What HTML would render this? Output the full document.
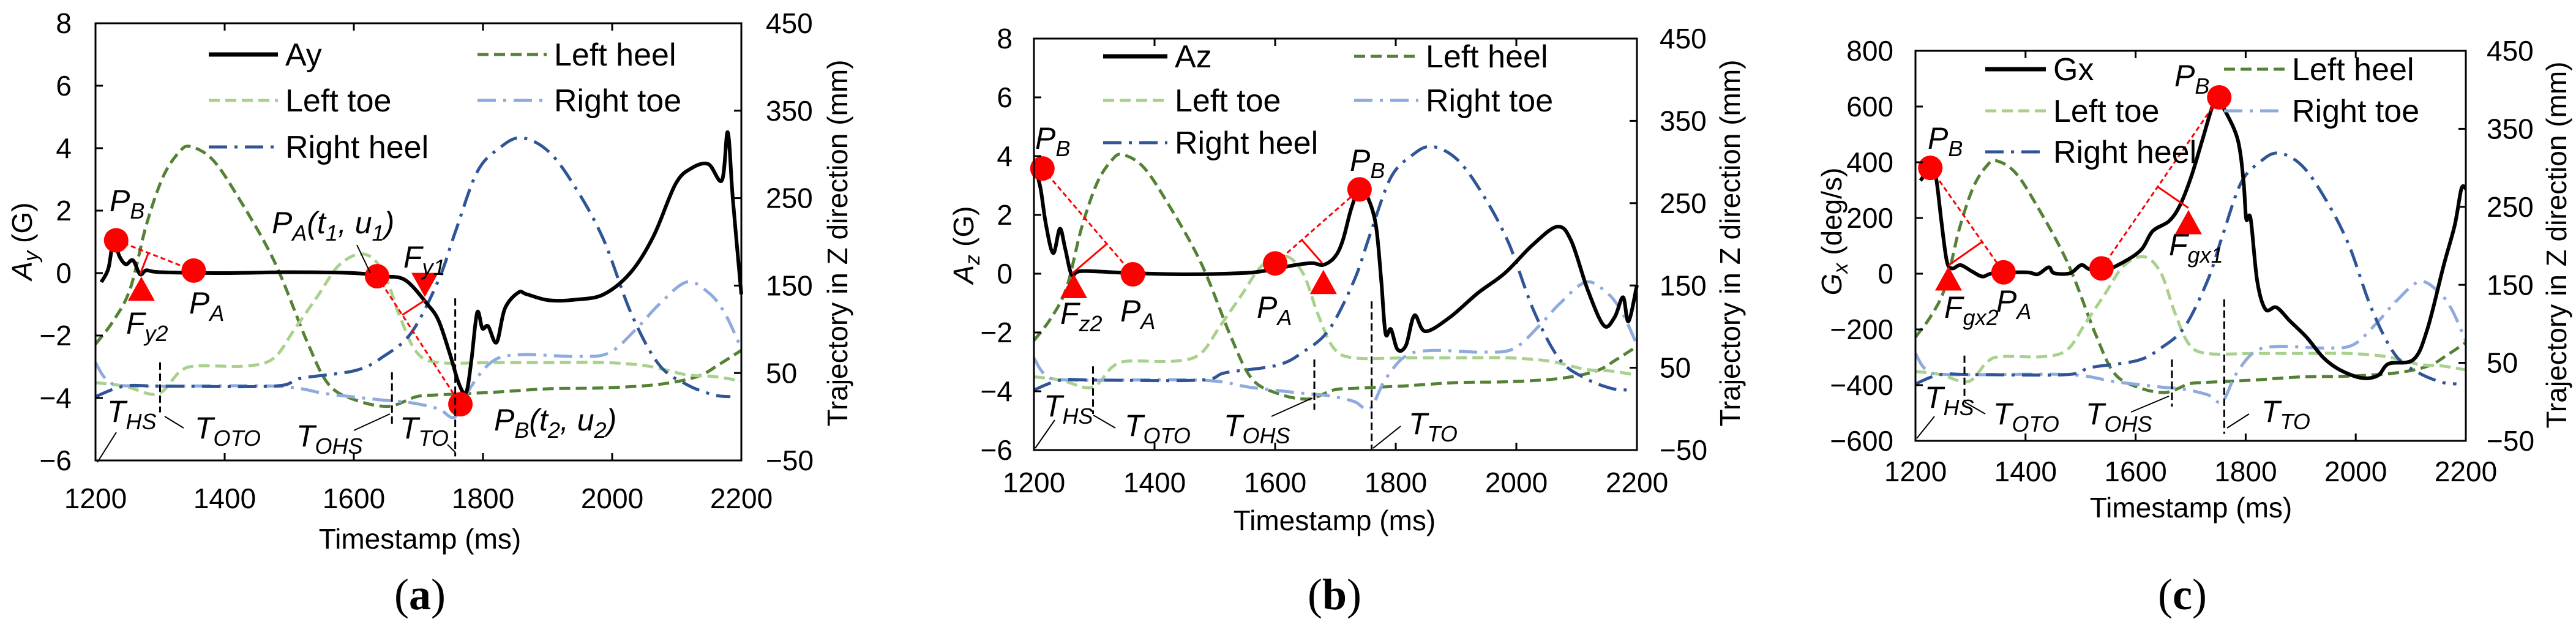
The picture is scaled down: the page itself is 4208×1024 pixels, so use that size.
<!DOCTYPE html>
<html><head><meta charset="utf-8"><style>
html,body{margin:0;padding:0;background:#fff}
svg{display:block;font-family:"Liberation Sans",Arial,sans-serif}
.it{font-style:italic}
</style></head><body>
<svg id="fig" width="4208" height="1024" viewBox="0 0 4208 1024" xmlns="http://www.w3.org/2000/svg">
<g id="layer"></g>
<!-- static titles -->
<g font-size="46" fill="#000">
 <text transform="translate(52,394) rotate(-90)" text-anchor="middle"><tspan class="it">A</tspan><tspan class="it" font-size="34" dy="10">y</tspan><tspan dy="-10"> (G)</tspan></text>
 <text transform="translate(1590,400) rotate(-90)" text-anchor="middle"><tspan class="it">A</tspan><tspan class="it" font-size="34" dy="10">z</tspan><tspan dy="-10"> (G)</tspan></text>
 <text transform="translate(3008,378) rotate(-90)" text-anchor="middle"><tspan class="it">G</tspan><tspan class="it" font-size="34" dy="10">x</tspan><tspan dy="-10"> (deg/s)</tspan></text>
 <text transform="translate(1384,397) rotate(-90)" text-anchor="middle">Trajectory in Z direction (mm)</text>
 <text transform="translate(2842,397) rotate(-90)" text-anchor="middle">Trajectory in Z direction (mm)</text>
 <text transform="translate(4192,400) rotate(-90)" text-anchor="middle">Trajectory in Z direction (mm)</text>
 <text x="686" y="896" text-anchor="middle">Timestamp (ms)</text>
 <text x="2180" y="866" text-anchor="middle">Timestamp (ms)</text>
 <text x="3579" y="845" text-anchor="middle">Timestamp (ms)</text>
</g>
<g font-family="'Liberation Serif',serif" font-size="72" text-anchor="middle">
 <text x="686" y="995">(<tspan font-weight="bold">a</tspan>)</text>
 <text x="2180" y="995">(<tspan font-weight="bold">b</tspan>)</text>
 <text x="3565" y="995">(<tspan font-weight="bold">c</tspan>)</text>
</g>
<!-- annotations -->
<g font-size="50" class="it" fill="#000" font-style="italic">
 <g>
  <text x="179" y="345">P<tspan font-size="36" dy="12">B</tspan></text>
  <text x="309" y="512">P<tspan font-size="36" dy="12">A</tspan></text>
  <text x="206" y="545">F<tspan font-size="36" dy="12">y2</tspan></text>
  <text x="444" y="381">P<tspan font-size="36" dy="12">A</tspan><tspan dy="-12">(t</tspan><tspan font-size="36" dy="12">1</tspan><tspan dy="-12">, u</tspan><tspan font-size="36" dy="12">1</tspan><tspan dy="-12">)</tspan></text>
  <text x="659" y="437">F<tspan font-size="36" dy="12">y1</tspan></text>
  <text x="175" y="689">T<tspan font-size="36" dy="12">HS</tspan></text>
  <text x="318" y="716">T<tspan font-size="36" dy="12">OTO</tspan></text>
  <text x="484" y="729">T<tspan font-size="36" dy="12">OHS</tspan></text>
  <text x="653" y="716">T<tspan font-size="36" dy="12">TO</tspan></text>
  <text x="807" y="703">P<tspan font-size="36" dy="12">B</tspan><tspan dy="-12">(t</tspan><tspan font-size="36" dy="12">2</tspan><tspan dy="-12">, u</tspan><tspan font-size="36" dy="12">2</tspan><tspan dy="-12">)</tspan></text>
  <g stroke="#000" stroke-width="2"><line x1="159" y1="755" x2="190" y2="706"/><line x1="269" y1="680" x2="300" y2="699"/><line x1="578" y1="703" x2="637" y2="676"/><line x1="731" y1="726" x2="744" y2="739"/><line x1="583" y1="400" x2="605" y2="446"/></g>
 </g>
 <g>
  <text x="1691" y="243">P<tspan font-size="36" dy="12">B</tspan></text>
  <text x="1830" y="525">P<tspan font-size="36" dy="12">A</tspan></text>
  <text x="1732" y="529">F<tspan font-size="36" dy="12">z2</tspan></text>
  <text x="2053" y="519">P<tspan font-size="36" dy="12">A</tspan></text>
  <text x="2205" y="279">P<tspan font-size="36" dy="12">B</tspan></text>
  <text x="1705" y="680">T<tspan font-size="36" dy="12">HS</tspan></text>
  <text x="1837" y="712">T<tspan font-size="36" dy="12">OTO</tspan></text>
  <text x="1999" y="712">T<tspan font-size="36" dy="12">OHS</tspan></text>
  <text x="2301" y="709">T<tspan font-size="36" dy="12">TO</tspan></text>
  <g stroke="#000" stroke-width="2"><line x1="1691" y1="732" x2="1723" y2="686"/><line x1="1786" y1="678" x2="1822" y2="699"/><line x1="2077" y1="680" x2="2144" y2="650"/><line x1="2243" y1="732" x2="2288" y2="696"/></g>
 </g>
 <g>
  <text x="3149" y="243">P<tspan font-size="36" dy="12">B</tspan></text>
  <text x="3261" y="509">P<tspan font-size="36" dy="12">A</tspan></text>
  <text x="3176" y="519">F<tspan font-size="36" dy="12">gx2</tspan></text>
  <text x="3543" y="417">F<tspan font-size="36" dy="12">gx1</tspan></text>
  <text x="3552" y="141">P<tspan font-size="36" dy="12">B</tspan></text>
  <text x="3144" y="666">T<tspan font-size="36" dy="12">HS</tspan></text>
  <text x="3256" y="693">T<tspan font-size="36" dy="12">OTO</tspan></text>
  <text x="3407" y="693">T<tspan font-size="36" dy="12">OHS</tspan></text>
  <text x="3694" y="689">T<tspan font-size="36" dy="12">TO</tspan></text>
  <g stroke="#000" stroke-width="2"><line x1="3131" y1="716" x2="3160" y2="680"/><line x1="3210" y1="657" x2="3243" y2="676"/><line x1="3481" y1="673" x2="3543" y2="647"/><line x1="3638" y1="699" x2="3674" y2="676"/></g>
 </g>
</g>
</svg>
<script>
// ---------- shared trajectory data (right axis, mm) ----------
const leftHeelT=[1200,1228,1254,1279,1305,1330,1347,1380,1416,1476,1527,1561,1603,1654,1697,1731,1816,1902,1987,2072,2132,2166,2200];
const leftHeelMM=[83,110,147,220,275,303,309,295,257,179,87,37,19,12,23,25,28,32,33,37,46,60,76];
const leftToeT=[1200,1245,1296,1330,1356,1433,1476,1509,1544,1578,1616,1646,1671,1697,1731,1816,1902,1987,2055,2115,2157,2200];
const leftToeMM=[39,35,26,51,58,58,67,101,138,174,186,165,115,74,62,62,62,62,58,48,46,41];
const rightHeelT=[1200,1245,1305,1476,1518,1603,1646,1689,1731,1757,1791,1825,1859,1902,1944,1987,2029,2072,2115,2157,2183];
const rightHeelMM=[23,35,35,35,44,53,69,96,156,211,280,307,319,303,261,202,119,60,37,25,23];
const rightToeT=[1200,1220,1262,1476,1561,1646,1689,1731,1757,1782,1816,1859,1944,1995,2038,2072,2115,2149,2174,2200];
const rightToeMM=[62,41,35,35,26,19,16,9,0,35,64,71,69,73,101,128,154,142,119,78];
// ---------- panel (a) Ay ----------
const ayT=[1209,1220,1228,1237,1247,1258,1269,1279,1300,1400,1500,1600,1646,1680,1714,1731,1748,1763,1774,1782,1791,1799,1808,1821,1834,1855,1868,1902,1944,1987,2029,2064,2098,2123,2149,2170,2179,2187,2200];
const ayV=[-0.29,0.15,1.05,0.54,0.28,0.41,-0.04,0.09,0.03,0,0.03,0,-0.1,-0.23,-1.0,-1.51,-2.54,-3.56,-3.82,-2.8,-1.26,-1.77,-1.7,-2.22,-1.13,-0.62,-0.68,-0.87,-0.85,-0.68,0.03,1.18,2.85,3.36,3.49,2.97,4.51,2.33,-0.68];
const aCircT=[1232,1352,1636,1765]; const aCircV=[1.05,0.08,-0.1,-4.2];
const aTriT=[1271,1710]; const aTriV=[-0.5,-0.38]; const aTriDir=[1,-1];
const aFT=[1269,1710]; const aFV=[-0.04,-0.87];
const aVLineT=[1300,1659,1757]; const aVLineTop=[-2.86,-3.18,-0.81]; const aVLineBot=[-4.46,-4.85,-5.87];
// ---------- panel (b) Az ----------
const azT=[1204,1211,1220,1232,1243,1252,1263,1279,1361,1452,1544,1580,1635,1662,1680,1699,1712,1726,1740,1753,1767,1776,1783,1792,1803,1817,1831,1849,1890,1936,1981,2027,2068,2091,2118,2145,2163,2177,2186,2200];
const azV=[3.44,2.9,1.66,0.7,1.53,0.84,-0.05,0.09,0.02,-0.02,0.02,0.09,0.3,0.36,0.3,0.57,1.12,2.2,2.9,2.62,1.66,-0.25,-2.03,-1.89,-2.58,-2.44,-1.42,-1.96,-1.48,-0.66,0.02,0.98,1.6,1.12,-0.53,-1.76,-1.48,-0.8,-1.62,-0.39];
const bCircT=[1214,1364,1600,1740]; const bCircV=[3.58,-0.02,0.35,2.87];
const bTriT=[1266,1680]; const bTriV=[-0.42,-0.28]; const bTriDir=[1,1];
const bFT=[1263,1678]; const bFV=[0,0.36];
const bVLineT=[1298,1665,1760]; const bVLineTop=[-3.15,-2.92,-0.94]; const bVLineBot=[-4.77,-4.63,-6];
// ---------- panel (c) Gx ----------
const gxT=[1209,1227,1237,1247,1257,1267,1282,1302,1322,1342,1402,1422,1442,1452,1481,1501,1516,1541,1581,1611,1631,1661,1681,1701,1721,1741,1751,1766,1786,1796,1801,1809,1821,1836,1856,1881,1911,1941,1971,2010,2040,2060,2105,2130,2160,2180,2192,2200];
const gxV=[334,377,348,189,45,19,31,9,-10,2,5,-2,23,2,2,31,16,9,45,88,153,189,247,348,478,608,615,572,478,334,197,197,-27,-128,-121,-171,-229,-301,-345,-374,-366,-323,-308,-200,31,175,305,305];
const cCircT=[1227,1360,1538,1752]; const cCircV=[380,5,19,633];
const cTriT=[1260,1696]; const cTriV=[-17,185]; const cTriDir=[1,1];
const cFT=[1260,1696]; const cFV=[30,236];
const cVLineT=[1289,1666,1761]; const cVLineTop=[-294,-308,-92]; const cVLineBot=[-460,-477,-575];
// ---------- ticks ----------
const xTicks=[1200,1400,1600,1800,2000,2200];
const accTicks=[-6,-4,-2,0,2,4,6,8];
const gyroTicks=[-600,-400,-200,0,200,400,600,800];
const mmTicks=[-50,50,150,250,350,450];

const NS='http://www.w3.org/2000/svg';
const layer=document.getElementById('layer');
function mk(tag,attrs,parent){const e=document.createElementNS(NS,tag);for(const k in attrs)e.setAttribute(k,attrs[k]);(parent||layer).appendChild(e);return e;}
function smooth(pts){ // catmull-rom
  let d='M'+pts[0][0].toFixed(1)+','+pts[0][1].toFixed(1);
  for(let i=0;i<pts.length-1;i++){const p0=pts[i-1]||pts[i],p1=pts[i],p2=pts[i+1],p3=pts[i+2]||p2;
    const c1=[p1[0]+(p2[0]-p0[0])/6,p1[1]+(p2[1]-p0[1])/6],c2=[p2[0]-(p3[0]-p1[0])/6,p2[1]-(p3[1]-p1[1])/6];
    d+=' C'+c1[0].toFixed(1)+','+c1[1].toFixed(1)+' '+c2[0].toFixed(1)+','+c2[1].toFixed(1)+' '+p2[0].toFixed(1)+','+p2[1].toFixed(1);}
  return d;}
const fmt=v=>(v<0?'\u2212':'')+Math.abs(v);

const styles={
 lh:{stroke:'#548235',dash:'18 9',w:5,label:'Left heel'},
 lt:{stroke:'#a9d18e',dash:'18 9',w:5,label:'Left toe'},
 rt:{stroke:'#8faadc',dash:'30 12 5 12',w:5,label:'Right toe'},
 rh:{stroke:'#2f5597',dash:'30 12 5 12',w:5,label:'Right heel'}};

function panel(p){
  const g=mk('g',{});
  
  
  const X=t=>p.x0+(t-1200)/1000*(p.x1-p.x0);
  const Y=v=>p.y0+(p.ymax-v)/(p.ymax-p.ymin)*(p.y1-p.y0);
  const YM=m=>p.y0+(450-m)/500*(p.y1-p.y0);
  // trajectories
  const traj=[['lh',leftHeelT,leftHeelMM],['lt',leftToeT,leftToeMM],['rt',rightToeT,rightToeMM],['rh',rightHeelT,rightHeelMM]];
  traj.forEach(([k,T,M])=>{const s=styles[k];
    const path=mk('path',{d:smooth(T.map((t,i)=>[X(t),YM(M[i])])),fill:'none',stroke:s.stroke,'stroke-width':s.w,'stroke-dasharray':s.dash},g);
    
    });
  // main signal
  const main=mk('path',{d:smooth(p.T.map((t,i)=>[X(t),Y(p.V[i])])),fill:'none',stroke:'#000','stroke-width':6,'stroke-linejoin':'round'},g);
  
  
  // red dashed connectors and perpendiculars
  for(let j=0;j<2;j++){
    const ax=X(p.cT[2*j]),ay=Y(p.cV[2*j]),bx=X(p.cT[2*j+1]),by=Y(p.cV[2*j+1]);
    const dl=mk('line',{x1:ax,y1:ay,x2:bx,y2:by,stroke:'#ff0000','stroke-width':3,'stroke-dasharray':'8 5'},g);
    
    
    const fx=X(p.fT[j]),fy=Y(p.fV[j]);const dx=bx-ax,dy=by-ay;const u=((fx-ax)*dx+(fy-ay)*dy)/(dx*dx+dy*dy);
    const pl=mk('line',{x1:fx,y1:fy,x2:ax+u*dx,y2:ay+u*dy,stroke:'#ff0000','stroke-width':3},g);
    
    }
  p.cT.forEach((t,i)=>{const c=mk('ellipse',{cx:X(t),cy:Y(p.cV[i]),rx:20,ry:20,fill:'#ff0000'},g);
    
    });
  p.triT.forEach((t,i)=>{const x=X(t),y=Y(p.triV[i]),d=p.triDir[i]*22;
    const tr=mk('polygon',{points:`${x-22},${y+d*0.9} ${x+22},${y+d*0.9} ${x},${y-d*0.9}`,fill:'#ff0000'},g);
    
    });
  // event vertical lines
  p.vT.forEach((t,i)=>{const l=mk('line',{x1:X(t),x2:X(t),y1:Y(p.vTop[i]),y2:Y(p.vBot[i]),stroke:'#000','stroke-width':3,'stroke-dasharray':'12 6'},g);
    
    });
  // frame
  const fr=mk('rect',{x:p.x0,y:p.y0,width:p.x1-p.x0,height:p.y1-p.y0,fill:'none',stroke:'#000','stroke-width':3},g);
  
  
  // ticks
  xTicks.forEach(t=>{const x=X(t);
    mk('line',{x1:x,x2:x,y1:p.y1,y2:p.y1-12,stroke:'#000','stroke-width':3},g);
    mk('line',{x1:x,x2:x,y1:p.y0,y2:p.y0+12,stroke:'#000','stroke-width':3},g);
    const tx=mk('text',{x:x,y:p.xly,'text-anchor':'middle','font-size':46,dy:'.35em'},g);tx.textContent=t;
    
    });
  p.yTicks.forEach(v=>{const y=Y(v);
    mk('line',{x1:p.x0,x2:p.x0+12,y1:y,y2:y,stroke:'#000','stroke-width':3},g);
    const tx=mk('text',{x:p.ylx,y:y,'text-anchor':'end','font-size':46,dy:'.35em'},g);tx.textContent=fmt(v);
    
    });
  mmTicks.forEach(m=>{const y=YM(m);
    mk('line',{x1:p.x1,x2:p.x1-12,y1:y,y2:y,stroke:'#000','stroke-width':3},g);
    const tx=mk('text',{x:p.rlx,y:y,'text-anchor':'start','font-size':46,dy:'.35em'},g);tx.textContent=fmt(m);
    
    });
  // legend
  const lg=mk('g',{},g);
  
  
  const ent=[[p.sig,{stroke:'#000',dash:'',w:7},0,0],['Left heel',styles.lh,1,0],['Left toe',styles.lt,0,1],['Right toe',styles.rt,1,1],['Right heel',styles.rh,0,2]];
  ent.forEach(([lab,s,c,r])=>{const L=p.leg,lx=c?L.x2:L.x1,y=L.rows[r];
    const ln=mk('line',{x1:lx,x2:lx+L.len,y1:y,y2:y,stroke:s.stroke,'stroke-width':s.w,'stroke-dasharray':s.dash||'none'},lg);
    
    
    const tx=mk('text',{x:lx+L.len+12,y:y,'font-size':52,dy:'.35em'},lg);tx.textContent=lab;
    
    });
}
panel({id:'a',sig:'Ay',x0:156,x1:1211,y0:38,y1:752,ymin:-6,ymax:8,T:ayT,V:ayV,cT:aCircT,cV:aCircV,triT:aTriT,triV:aTriV,triDir:aTriDir,fT:aFT,fV:aFV,vT:aVLineT,vTop:aVLineTop,vBot:aVLineBot,yTicks:accTicks,xly:814,ylx:117,rlx:1251,leg:{x1:341,x2:780,len:113,rows:[89,164,240]}});
panel({id:'b',sig:'Az',x0:1689,x1:2674,y0:63,y1:735,ymin:-6,ymax:8,T:azT,V:azV,cT:bCircT,cV:bCircV,triT:bTriT,triV:bTriV,triDir:bTriDir,fT:bFT,fV:bFV,vT:bVLineT,vTop:bVLineTop,vBot:bVLineBot,yTicks:accTicks,xly:788,ylx:1654,rlx:2711,leg:{x1:1802,x2:2212,len:105,rows:[92,164,233]}});
panel({id:'c',sig:'Gx',x0:3129,x1:4028,y0:83,y1:720,ymin:-600,ymax:800,T:gxT,V:gxV,cT:cCircT,cV:cCircV,triT:cTriT,triV:cTriV,triDir:cTriDir,fT:cFT,fV:cFV,vT:cVLineT,vTop:cVLineTop,vBot:cVLineBot,yTicks:gyroTicks,xly:770,ylx:3093,rlx:4062,leg:{x1:3243,x2:3633,len:99,rows:[113,181,248]}});
</script>
</body></html>
